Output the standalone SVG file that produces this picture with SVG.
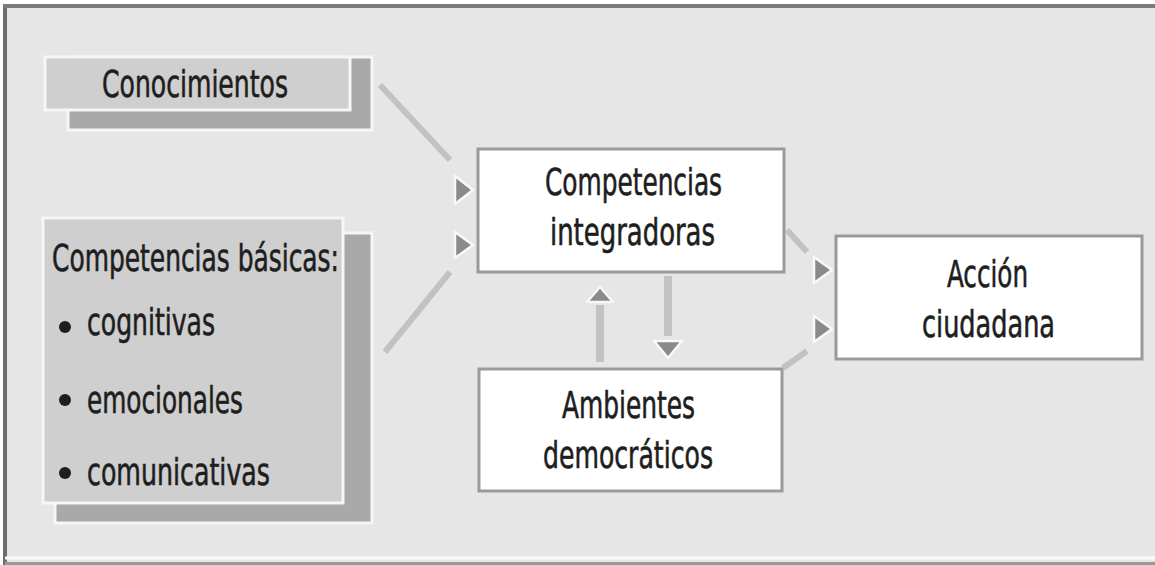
<svg xmlns="http://www.w3.org/2000/svg" width="1155" height="565" viewBox="0 0 1155 565">
<style>
.t{font-family:"DejaVu Sans","Liberation Sans",sans-serif;font-stretch:condensed;font-size:38px;fill:#1e1e1e;stroke:#1e1e1e;stroke-width:0.6}
.box{fill:#ffffff;stroke:#9a9a9a;stroke-width:3}
.gbox{fill:#cfcfcf;stroke:#f6f6f6;stroke-width:3}
.shadow{fill:#a9a9a9;stroke:#f6f6f6;stroke-width:3}
.ln{stroke:#c2c2c2;stroke-width:6;fill:none}
.vln{stroke:#c2c2c2;stroke-width:8;fill:none}
.ah{fill:#8a8a8a;stroke:#f8f8f8;stroke-width:2.5;stroke-linejoin:round}
.bul{fill:#1e1e1e}
</style>
<rect x="0" y="0" width="1155" height="565" fill="#ffffff"/>
<rect x="5" y="6" width="1150" height="556" fill="#e6e6e6"/>
<line x1="5" y1="4" x2="5" y2="565" stroke="#6e6e6e" stroke-width="4"/>
<line x1="3" y1="6" x2="1155" y2="6" stroke="#7a7a7a" stroke-width="4"/>
<line x1="5" y1="558" x2="1155" y2="558" stroke="#fafafa" stroke-width="3"/>
<line x1="5" y1="563.5" x2="1155" y2="563.5" stroke="#9a9a9a" stroke-width="3"/>

<g id="connectors">
  <line class="ln" x1="380" y1="85" x2="450" y2="160"/>
  <polygon class="ah" points="455,176 473,190 455,204"/>
  <line class="ln" x1="385" y1="352" x2="450" y2="272"/>
  <polygon class="ah" points="455,232 473,245 455,258"/>
  <line class="ln" x1="787" y1="230" x2="807" y2="252"/>
  <polygon class="ah" points="814,257 832,270 814,283"/>
  <line class="ln" x1="783" y1="368" x2="807" y2="351"/>
  <polygon class="ah" points="814,316 832,329 814,342"/>
  <line class="vln" x1="600" y1="362" x2="600" y2="305"/>
  <polygon class="ah" points="587,302 600,287 613,302"/>
  <line class="vln" x1="668" y1="276" x2="668" y2="336"/>
  <polygon class="ah" points="654,341 682,341 668,358"/>
</g>

<g id="conocimientos">
  <rect class="shadow" x="68" y="57" width="304" height="73"/>
  <rect class="gbox" x="45" y="57" width="305" height="53"/>
  <text class="t" x="102" y="97" textLength="186" lengthAdjust="spacingAndGlyphs">Conocimientos</text>
</g>

<g id="competencias-basicas">
  <rect class="shadow" x="55" y="233" width="317" height="290"/>
  <rect class="gbox" x="43" y="218" width="300" height="285"/>
  <text class="t" x="52" y="271" textLength="287" lengthAdjust="spacingAndGlyphs">Competencias básicas:</text>
  <circle class="bul" cx="65" cy="327" r="6"/>
  <text class="t" x="87" y="335" textLength="128" lengthAdjust="spacingAndGlyphs">cognitivas</text>
  <circle class="bul" cx="65" cy="400" r="6"/>
  <text class="t" x="87" y="413" textLength="156" lengthAdjust="spacingAndGlyphs">emocionales</text>
  <circle class="bul" cx="65" cy="473" r="6"/>
  <text class="t" x="87" y="485" textLength="183" lengthAdjust="spacingAndGlyphs">comunicativas</text>
</g>

<g id="competencias-integradoras">
  <rect class="box" x="478" y="149" width="306" height="123"/>
  <text class="t" x="545" y="195" textLength="177" lengthAdjust="spacingAndGlyphs">Competencias</text>
  <text class="t" x="550" y="245" textLength="165" lengthAdjust="spacingAndGlyphs">integradoras</text>
</g>

<g id="ambientes-democraticos">
  <rect class="box" x="479" y="369" width="303" height="122"/>
  <text class="t" x="562" y="418" textLength="133" lengthAdjust="spacingAndGlyphs">Ambientes</text>
  <text class="t" x="543" y="468" textLength="170" lengthAdjust="spacingAndGlyphs">democráticos</text>
</g>

<g id="accion-ciudadana">
  <rect class="box" x="836" y="236" width="306" height="123"/>
  <text class="t" x="947" y="287" textLength="81" lengthAdjust="spacingAndGlyphs">Acción</text>
  <text class="t" x="922" y="337" textLength="133" lengthAdjust="spacingAndGlyphs">ciudadana</text>
</g>
</svg>
